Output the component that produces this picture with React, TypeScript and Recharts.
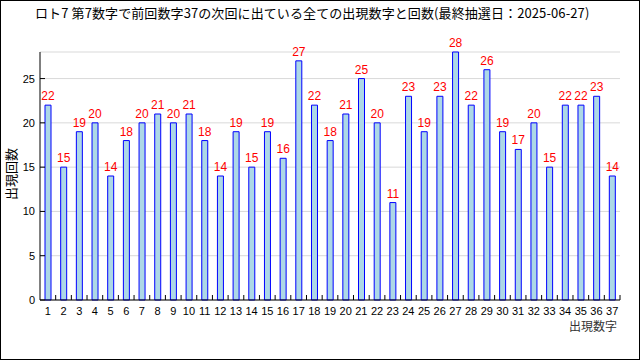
import { Bar, BarChart, CartesianGrid, LabelList, XAxis, YAxis } from "recharts";

// 出現数字 1..37
const numbers = [
  "1", "2", "3", "4", "5", "6", "7", "8", "9", "10",
  "11", "12", "13", "14", "15", "16", "17", "18", "19", "20",
  "21", "22", "23", "24", "25", "26", "27", "28", "29", "30",
  "31", "32", "33", "34", "35", "36", "37",
];

// 出現回数
const counts = [
  22, 15, 19, 20, 14, 18, 20, 21, 20, 21,
  18, 14, 19, 15, 19, 16, 27, 22, 18, 21,
  25, 20, 11, 23, 19, 23, 28, 22, 26, 19,
  17, 20, 15, 22, 22, 23, 14,
];

const yTicks = [0, 5, 10, 15, 20, 25];

const title = "ロト7 第7数字で前回数字37の次回に出ている全ての出現数字と回数(最終抽選日：2025-06-27)";

const data = numbers.map((n, i) => ({ num: n, count: counts[i] }));

const numFont = "'Liberation Sans', 'DejaVu Sans', sans-serif";
const jpFont = "'Noto Sans CJK JP', sans-serif";

function XTick(props: any) {
  const { x, y, payload } = props;
  const half = payload?.offset ?? 580 / 74;
  return (
    <g>
      <line x1={x + half} y1={y} x2={x + half} y2={y - 5} stroke="#000" />
      <text x={x} y={y + 15} textAnchor="middle" fontSize={11} fontFamily={numFont} fill="#000">
        {payload.value}
      </text>
    </g>
  );
}

function YTick(props: any) {
  const { x, y, payload } = props;
  return (
    <g>
      <line x1={x} y1={y} x2={x + 5} y2={y} stroke="#000" />
      <text x={x - 5} y={y + 4} textAnchor="end" fontSize={11} fontFamily={numFont} fill="#000">
        {payload.value}
      </text>
    </g>
  );
}

export default function App() {
  return (
    <div
      style={{
        position: "absolute",
        left: 0,
        top: 0,
        width: 640,
        height: 360,
        boxSizing: "border-box",
        border: "1px solid #000",
        background: "#fff",
      }}
    >
      <div
        style={{
          position: "absolute",
          left: 34,
          top: 2,
          fontSize: 13,
          letterSpacing: 0.1,
          fontFamily: jpFont,
          color: "#000",
          whiteSpace: "nowrap",
        }}
      >
        {title}
      </div>
      <div style={{ position: "absolute", left: -1, top: -1 }}>
        <BarChart
          width={640}
          height={360}
          data={data}
          margin={{ top: 52, right: 20, bottom: 30, left: 0 }}
          barSize={6}
        >
          <CartesianGrid vertical={false} stroke="#d9d9d9" />
          <XAxis
            dataKey="num"
            height={30}
            interval={0}
            tickSize={0}
            tickMargin={0}
            tick={<XTick />}
            axisLine={{ stroke: "#000" }}
            label={{
              content: (p: any) => {
                const vb = p.viewBox;
                return (
                  <text
                    x={vb.x + vb.width - 3}
                    y={vb.y + 31}
                    textAnchor="end"
                    fontSize={12}
                    fontFamily={jpFont}
                    fill="#333"
                  >
                    出現数字
                  </text>
                );
              },
            }}
          />
          <YAxis
            width={40}
            domain={[0, 28]}
            ticks={yTicks}
            tickSize={0}
            tickMargin={0}
            tick={<YTick />}
            axisLine={{ stroke: "#000" }}
            label={{
              content: (p: any) => {
                const vb = p.viewBox;
                const cx = 10;
                const cy = vb.y + vb.height / 2 - 2;
                return (
                  <text
                    x={cx}
                    y={cy}
                    transform={`rotate(-90 ${cx} ${cy})`}
                    textAnchor="middle"
                    dominantBaseline="central"
                    fontSize={13}
                    fontFamily={jpFont}
                    fill="#000"
                  >
                    出現回数
                  </text>
                );
              },
            }}
          />
          <Bar dataKey="count" fill="#add8e6" stroke="#0000ff" strokeWidth={1} isAnimationActive={false}>
            <LabelList dataKey="count" position="top" offset={5} fill="#ff0000" fontSize={12} fontFamily={numFont} />
          </Bar>
        </BarChart>
      </div>
    </div>
  );
}
